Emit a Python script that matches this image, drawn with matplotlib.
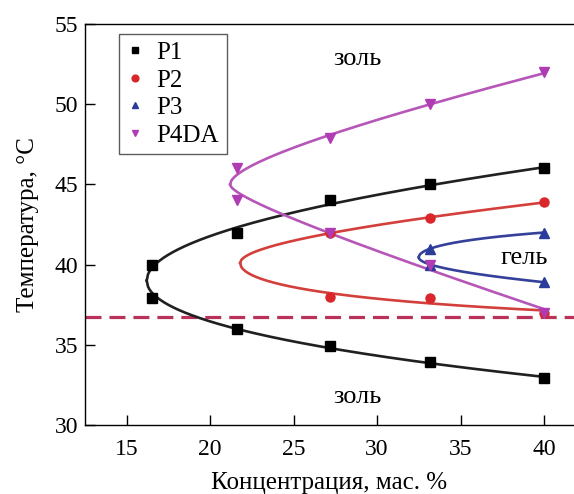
"""
Sol-gel phase diagram: transition temperature vs polymer concentration.
"""
import numpy as np
import matplotlib
matplotlib.use("Agg")
import matplotlib.pyplot as plt

plt.rcParams["font.family"] = ["Liberation Serif", "DejaVu Serif"]

# measured points, concentration (wt %) and temperature (°C)
p1_x = [16.5, 16.5, 21.6, 21.6, 27.2, 27.2, 33.2, 33.2, 40.0, 40.0]
p1_y = [40.0, 37.9, 42.0, 36.0, 44.0, 34.9, 45.0, 33.9, 46.0, 32.9]
p2_x = [27.2, 27.2, 33.2, 33.2, 40.0, 40.0]
p2_y = [42.0, 38.0, 42.9, 37.9, 43.9, 37.0]
p3_x = [33.2, 33.2, 40.0, 40.0]
p3_y = [41.0, 40.0, 42.0, 38.9]
p4_x = [21.6, 21.6, 27.2, 27.2, 33.2, 33.2, 40.0, 40.0]
p4_y = [46.0, 44.0, 47.9, 42.0, 50.0, 40.0, 52.0, 37.0]

# turning points of the fitted boundaries
p1_turn = (16.2, 39.0)
p2_turn = (21.8, 40.1)
p3_turn = (32.5, 40.45)
p4_turn = (21.2, 45.0)

body_temp = 36.7
x_end = 40.0


def branch_curve(xs, ys, turn, sign):
    """least squares y = y0 +/- (k*sqrt(u) + m*u), u = x - x0, for one branch"""
    x0, y0 = turn
    xs = np.asarray(xs)
    ys = np.asarray(ys)
    sel = (ys - y0) * sign > 0
    u = xs[sel] - x0
    d = (ys[sel] - y0) * sign
    A = np.column_stack([np.sqrt(u), u])
    (k, m), *_ = np.linalg.lstsq(A, d, rcond=None)
    xx = np.linspace(x0, x_end, 300)
    uu = xx - x0
    return xx, y0 + sign * (k * np.sqrt(uu) + m * uu)


series = [
    ("P1", p1_x, p1_y, p1_turn, "s", "#000000", "#202020"),
    ("P2", p2_x, p2_y, p2_turn, "o", "#d9262a", "#d3403c"),
    ("P3", p3_x, p3_y, p3_turn, "^", "#2b3c9c", "#34409a"),
    ("P4DA", p4_x, p4_y, p4_turn, "v", "#b03cb4", "#b656b8"),
]

fig = plt.figure(figsize=(5.74, 4.94), dpi=100)
ax = fig.add_axes([0.148, 0.14, 0.852, 0.811])

for name, xs, ys, turn, mk, c, lc in series:
    for sign in (1, -1):
        xx, yy = branch_curve(xs, ys, turn, sign)
        ax.plot(xx, yy, color=lc, linewidth=1.9, zorder=2)
    ax.plot(xs, ys, linestyle="none", marker=mk, markersize=6.5,
            color=c, markeredgecolor=c, label=name, zorder=3)

ax.axhline(body_temp, color="#b8325a", linestyle=(0, (5, 2.5)), linewidth=2.3, zorder=1)

ax.text(28.8, 52.85, "золь", ha="center", va="center", fontsize=19)
ax.text(28.8, 31.75, "золь", ha="center", va="center", fontsize=19)
ax.text(38.8, 40.4, "гель", ha="center", va="center", fontsize=19)

ax.set_xlim(12.5, 41.8)
ax.set_ylim(30, 55)
ax.set_xticks([15, 20, 25, 30, 35, 40])
ax.set_yticks([30, 35, 40, 45, 50, 55])
ax.tick_params(direction="in", length=7, width=1, labelsize=17)
ax.tick_params(axis="x", pad=10)
ax.tick_params(axis="y", pad=5)
ax.spines["right"].set_visible(False)
for sp in ("left", "top", "bottom"):
    ax.spines[sp].set_linewidth(1)

ax.set_xlabel("Концентрация, мас. %", fontsize=18, labelpad=9)
ax.set_ylabel("Температура, °C", fontsize=18, labelpad=11)

leg = ax.legend(loc="upper left", bbox_to_anchor=(0.07, 0.975), fontsize=18,
                frameon=True, fancybox=False, edgecolor="#333333",
                labelspacing=0.2, handlelength=0.7, handletextpad=0.5,
                borderpad=0.3, borderaxespad=0, markerscale=0.75)
leg.get_frame().set_linewidth(1)

fig.savefig("out.png", dpi=100)
